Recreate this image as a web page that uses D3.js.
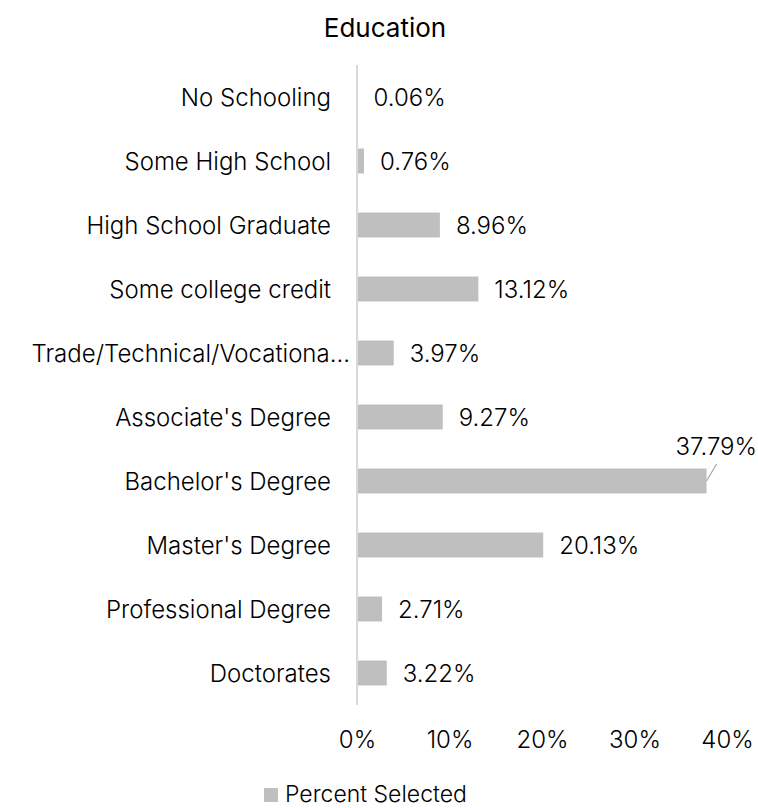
<!DOCTYPE html>
<html><head><meta charset="utf-8">
<script src="https://cdn.jsdelivr.net/npm/d3@7"></script>
<style>body{margin:0;background:#fff}</style>
</head><body>
<svg id="c" width="758" height="808"></svg>
<script>
const categories = ["No Schooling","Some High School","High School Graduate","Some college credit","Trade/Technical/Vocationa...","Associate's Degree","Bachelor's Degree","Master's Degree","Professional Degree","Doctorates"];
const values = [0.06,0.76,8.96,13.12,3.97,9.27,37.79,20.13,2.71,3.22];
const ticks = [0,10,20,30,40];
const seriesName = "Percent Selected";
const title = "Education";

const svg = d3.select("#c");
const FONT = "Inter";
const FS = "24px";
const x = d3.scaleLinear().domain([0,40]).range([357,727]);
const y = d3.scaleBand().domain(categories).range([65,705]).paddingInner(0.61).paddingOuter(0.305);

svg.append("text").attr("x",385).attr("y",27).attr("text-anchor","middle").attr("dominant-baseline","central")
  .style("font-family",FONT).style("font-weight",400).style("font-size","26px").attr("fill","#000").text(title);

svg.selectAll("rect.bar").data(values).join("rect").attr("class","bar")
  .attr("x",x(0)).attr("y",(d,i)=>y(categories[i])).attr("width",d=>x(d)-x(0)).attr("height",y.bandwidth()).attr("fill","#bfbfbf");

svg.append("line").attr("x1",357).attr("x2",357).attr("y1",65).attr("y2",705).attr("stroke","#d9d9d9").attr("stroke-width",2);

svg.selectAll("text.cat").data(categories).join("text").attr("class","cat")
  .attr("x",d=>d.endsWith("...")?350:331).attr("y",d=>y(d)+y.bandwidth()/2).attr("text-anchor","end").attr("dominant-baseline","central")
  .style("font-family",FONT).style("font-weight",300).style("font-size",FS).attr("fill","#000").text(d=>d);

// value labels
const maxV = d3.max(values);
values.forEach((v,i)=>{
  const cy = y(categories[i])+y.bandwidth()/2;
  const lbl = v.toFixed(2)+"%";
  if(v===maxV){
    svg.append("line").attr("x1",x(v)).attr("y1",cy).attr("x2",x(v)+10).attr("y2",cy-17).attr("stroke","#a6a6a6").attr("stroke-width",1.2);
    svg.append("text").attr("x",757).attr("y",cy-35).attr("text-anchor","end").attr("dominant-baseline","central")
      .style("font-family",FONT).style("font-weight",300).style("font-size",FS).attr("fill","#000").text(lbl);
  } else {
    svg.append("text").attr("x",x(v)+16).attr("y",cy).attr("dominant-baseline","central")
      .style("font-family",FONT).style("font-weight",300).style("font-size",FS).attr("fill","#000").text(lbl);
  }
});

// x axis tick labels
const ax = svg.append("g").attr("transform","translate(0,728)")
  .call(d3.axisBottom(x).tickValues(ticks).tickFormat(d=>d+"%").tickSize(0).tickPadding(0));
ax.select(".domain").remove();
ax.selectAll("text").attr("dy",null).attr("y",11).attr("dominant-baseline","central")
  .style("font-family",FONT).style("font-weight",300).style("font-size",FS).attr("fill","#000");

// legend
const lg = svg.append("g");
lg.append("rect").attr("x",264).attr("y",788).attr("width",14).attr("height",14).attr("fill","#bfbfbf");
lg.append("text").attr("x",285).attr("y",794).attr("dominant-baseline","central")
  .style("font-family",FONT).style("font-weight",300).style("font-size","23px").attr("fill","#000").text(seriesName);
</script>
</body></html>
